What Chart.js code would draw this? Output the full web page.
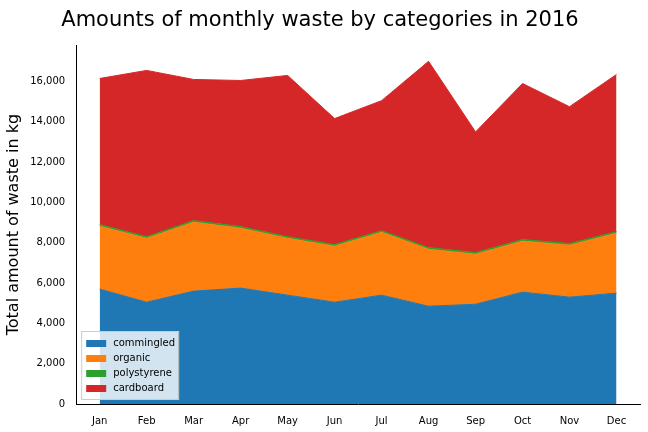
<!DOCTYPE html>
<html><head><meta charset="utf-8">
<script src="https://cdn.jsdelivr.net/npm/chart.js@4"></script>
<style>html,body{margin:0;background:#fff}#c{width:648px;height:432px}</style>
</head><body><div id="c"><canvas id="cv" width="648" height="432"></canvas></div>
<script>
const months = ["Jan","Feb","Mar","Apr","May","Jun","Jul","Aug","Sep","Oct","Nov","Dec"];
const commingled = [5700,5050,5600,5750,5400,5050,5400,4850,4950,5550,5300,5500];
const organic =    [3120,3170,3420,2970,2820,2780,3120,2830,2480,2530,2580,2970];
const polystyrene = [80,80,80,80,80,80,80,80,80,80,80,80];
const cardboard =  [7250,8250,7000,7250,8000,6250,6450,9240,5990,7740,6790,7800];
const yTicks = [0,2000,4000,6000,8000,10000,12000,14000,16000];
const series = [["commingled",commingled,"#1f77b4"],["organic",organic,"#ff7f0e"],["polystyrene",polystyrene,"#2ca02c"],["cardboard",cardboard,"#d62728"]];
const datasets = series.map((s,i)=>({label:s[0],data:s[1].map((v,j)=>({x:j,y:v})),backgroundColor:s[2],borderColor:s[2],borderWidth:1,pointRadius:0,fill:i===0?'origin':'-1',tension:0}));
const legendPlugin={id:'lg',afterDraw(ch){const c=ch.ctx,a=ch.chartArea;const x=a.left+5,h=15,w=97,y0=a.bottom-5-h*4-8;
c.save();c.fillStyle='rgba(255,255,255,0.8)';c.strokeStyle='#ccc';c.lineWidth=1;c.fillRect(x,y0,w,h*4+8);c.strokeRect(x+.5,y0+.5,w,h*4+8);
c.font='10px "DejaVu Sans"';c.textBaseline='middle';series.forEach((s,i)=>{const yy=y0+5+i*h+h/2;c.fillStyle=s[2];c.fillRect(x+5,yy-3.5,20,7);c.fillStyle='#000';c.fillText(s[0],x+32,yy);});c.restore();}};
new Chart(document.getElementById('cv'),{type:'line',data:{datasets},plugins:[legendPlugin],
options:{responsive:false,animation:false,layout:{padding:{left:0,right:8,top:0,bottom:2}},
plugins:{legend:{display:false},tooltip:{enabled:false},title:{display:true,text:'Amounts of monthly waste by categories in 2016',font:{size:21,family:'DejaVu Sans',weight:'normal'},color:'#000',padding:{top:8,bottom:12}}},
scales:{x:{type:'linear',min:-0.5,max:11.5,afterBuildTicks(ax){ax.ticks=months.map((m,i)=>({value:i}));},ticks:{callback:(v)=>months[v],color:'#000',font:{size:10,family:'DejaVu Sans'},autoSkip:false,maxRotation:0},grid:{display:false,drawTicks:true},border:{color:'#000'}},
y:{stacked:true,min:0,max:17800,afterBuildTicks(ax){ax.ticks=yTicks.map(v=>({value:v}));},ticks:{color:'#000',font:{size:10,family:'DejaVu Sans'}},grid:{display:false},border:{color:'#000'},title:{display:true,text:'Total amount of waste in kg',font:{size:16,family:'DejaVu Sans'},color:'#000'}}}}});
</script></body></html>
